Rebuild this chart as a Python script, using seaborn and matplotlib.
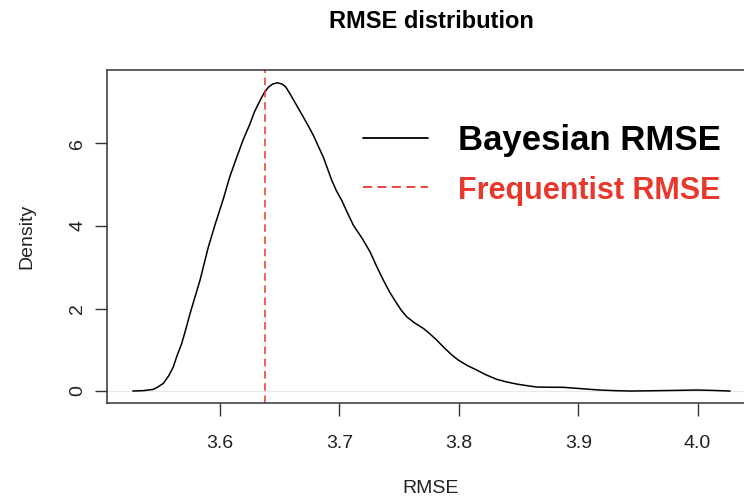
import matplotlib
matplotlib.use("Agg")
import matplotlib.pyplot as plt
import seaborn as sns
import pandas as pd
from matplotlib.lines import Line2D

# Density curve of Bayesian RMSE
rmse_x = [3.5269, 3.5360, 3.5441, 3.5480, 3.5525, 3.5570, 3.5609, 3.5640, 3.5679,
          3.5715, 3.5749, 3.5790, 3.5832, 3.5867, 3.5902, 3.5960, 3.6028, 3.6080,
          3.6140, 3.6195, 3.6251, 3.6290, 3.6335, 3.6370, 3.6405, 3.6440, 3.6480,
          3.6520, 3.6550, 3.6586, 3.6640, 3.6698, 3.6740, 3.6782, 3.6820, 3.6865,
          3.6900, 3.6936, 3.6975, 3.7019, 3.7065, 3.7117, 3.7190, 3.7257, 3.7310,
          3.7368, 3.7420, 3.7480, 3.7520, 3.7564, 3.7630, 3.7703, 3.7760, 3.7815,
          3.7870, 3.7927, 3.7960, 3.7996, 3.8070, 3.8150, 3.8230, 3.8318, 3.8400,
          3.8485, 3.8570, 3.8653, 3.8760, 3.8876, 3.8990, 3.9099, 3.9183, 3.9300,
          3.9435, 3.9650, 3.9853, 3.9993, 4.0130, 4.0272]
density_y = [0.000, 0.010, 0.041, 0.100, 0.186, 0.370, 0.588, 0.860, 1.154,
             1.520, 1.880, 2.280, 2.686, 3.090, 3.491, 4.050, 4.662, 5.180,
             5.669, 6.100, 6.477, 6.780, 7.041, 7.230, 7.363, 7.440, 7.469,
             7.440, 7.370, 7.203, 6.930, 6.637, 6.420, 6.194, 5.950, 5.669,
             5.390, 5.105, 4.850, 4.621, 4.330, 4.016, 3.700, 3.370, 3.030,
             2.686, 2.400, 2.122, 1.950, 1.798, 1.650, 1.517, 1.380, 1.234,
             1.070, 0.912, 0.830, 0.750, 0.620, 0.508, 0.390, 0.283, 0.220,
             0.169, 0.130, 0.097, 0.092, 0.090, 0.065, 0.041, 0.024, 0.010,
             0.000, 0.008, 0.017, 0.024, 0.015, 0.000]
frequentist_rmse = 3.638

x_ticks = [3.6, 3.7, 3.8, 3.9, 4.0]
x_tick_labels = ["3.6", "3.7", "3.8", "3.9", "4.0"]
y_ticks = [0, 2, 4, 6]
y_tick_labels = ["0", "2", "4", "6"]

title = "RMSE distribution"
x_label = "RMSE"
y_label = "Density"
legend_labels = ["Bayesian RMSE", "Frequentist RMSE"]

sns.set_style("ticks")
plt.rcParams["font.family"] = ["Liberation Sans", "DejaVu Sans"]

RED = "#E8372C"

fig = plt.figure(figsize=(7.44, 5.01), dpi=100)
W, H = 744, 501
left, right, top, bottom = 107, 753.6, 70, 403
ax = fig.add_axes([left / W, 1 - bottom / H, (right - left) / W, (bottom - top) / H])

df = pd.DataFrame({"x": rmse_x, "y": density_y})
ax.axhline(0, color="#e8e8e8", lw=0.8, zorder=0)
sns.lineplot(data=df, x="x", y="y", ax=ax, color="black", lw=1.1, sort=True)
for ln in ax.get_lines():
    ln.set_solid_joinstyle("round")
ax.axvline(frequentist_rmse, color=RED, lw=1.1, linestyle=(0, (5, 3)))

ax.set_xlim(3.5053, 4.0469)
ax.set_ylim(-0.29, 7.78)

ax.set_xticks(x_ticks)
ax.set_xticklabels(x_tick_labels)
ax.set_yticks(y_ticks)
ax.set_yticklabels(y_tick_labels)
ax.tick_params(axis="both", direction="out", length=9, width=1.0, color="#333333",
               labelsize=14, labelcolor="#222222")
ax.tick_params(axis="x", pad=14)
ax.tick_params(axis="y", pad=6)
for lbl in ax.get_yticklabels():
    lbl.set_rotation(90)
    lbl.set_va("center")

for sp in ax.spines.values():
    sp.set_visible(True)
    sp.set_color("#333333")
    sp.set_linewidth(1.1)

ax.set_xlabel(x_label, fontsize=14, labelpad=20, color="#222222")
ax.set_ylabel(y_label, fontsize=14, labelpad=24, color="#222222")
fig.text(431 / W, 1 - 21 / H, title, ha="center", va="center",
         fontsize=17, fontweight="bold", color="black")

handles = [Line2D([], [], color="black", lw=1.3),
           Line2D([], [], color=RED, lw=1.3, linestyle=(0, (5, 3)))]
leg = ax.legend(handles, legend_labels, loc="upper left",
                bbox_to_anchor=(363 / W, 1 - 124 / H), bbox_transform=fig.transFigure,
                frameon=False, fontsize=25, handlelength=1.87, handletextpad=0.86,
                labelspacing=0.52, borderpad=0, borderaxespad=0)
texts = leg.get_texts()
texts[0].set_fontweight("bold")
texts[0].set_color("black")
texts[1].set_fontweight("bold")
texts[1].set_color(RED)
texts[1].set_fontsize(22)

fig.savefig("out.png", dpi=100)
